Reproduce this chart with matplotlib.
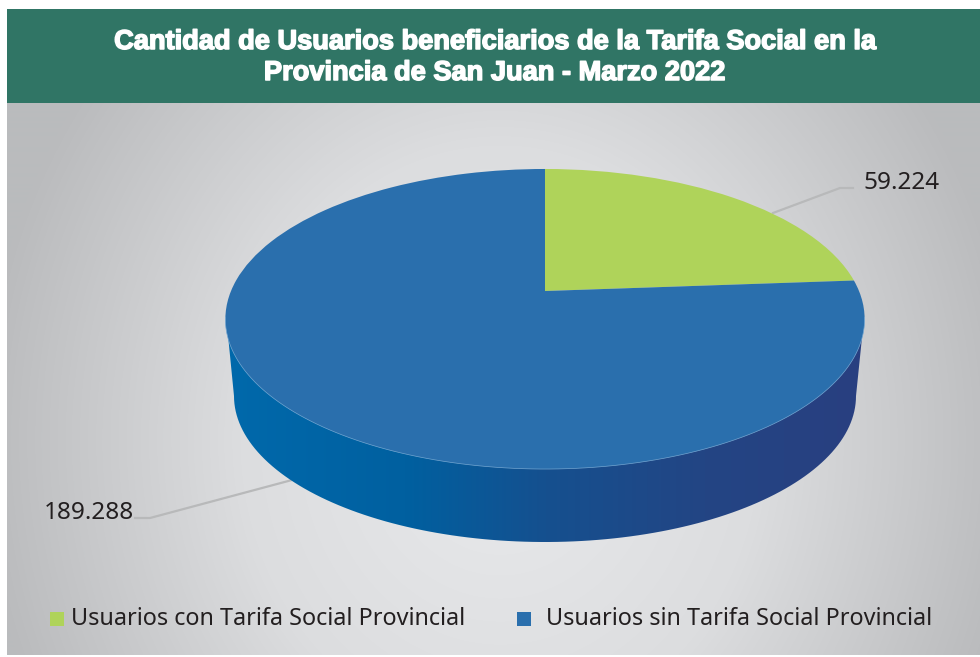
"""
Tarifa Social users in San Juan, drawn as a tilted 3D style pie.
"""

import numpy as np
import matplotlib
matplotlib.use("Agg")
import matplotlib.pyplot as plt
import matplotlib.patheffects as pe
from matplotlib.colors import LinearSegmentedColormap
from matplotlib.patches import PathPatch, Rectangle
from matplotlib.path import Path
from matplotlib.transforms import Transform

title_lines = [
    "Cantidad de Usuarios beneficiarios de la Tarifa Social en la",
    "Provincia de San Juan - Marzo 2022",
]
categories = ["Usuarios con Tarifa Social Provincial", "Usuarios sin Tarifa Social Provincial"]
values = [59224, 189288]
value_labels = ["59.224", "189.288"]
slice_colors = ["#afd35a", "#2a6fad"]

INK = "#231f20"
BAND = "#307565"
LEADER = "#b8b9ba"


class TiltTransform(Transform):
    """Maps the unit pie to figure pixels with a bit of perspective"""
    input_dims = 2
    output_dims = 2

    def __init__(self, cx=545, cy=291, sx=314, sy=144.8, k=0.1867):
        super().__init__()
        self.cx, self.cy, self.sx, self.sy, self.k = cx, cy, sx, sy, k

    def transform_non_affine(self, xy):
        xy = np.asarray(xy, dtype=float)
        w = 1 + self.k * xy[:, 1]
        return np.column_stack([self.cx + self.sx * xy[:, 0] / w,
                                self.cy - self.sy * xy[:, 1] / w])


fig = plt.figure(figsize=(9.8, 6.57), dpi=100, facecolor="white")
ax = fig.add_axes([0, 0, 1, 1])

# Panel background, light in the lower middle and darker to the edges
gx, gy = np.meshgrid(np.arange(7, 981), np.arange(103, 656))
r = np.clip(np.hypot((gx - 500) / 520, (gy - 440) / 590), 0, 1)
bg_cmap = LinearSegmentedColormap.from_list("bg", ["#e9eaec", "#dcdddf", "#babbbd"])
ax.imshow(r, cmap=bg_cmap, vmin=0, vmax=1, extent=(7, 980, 655, 103), aspect="auto", zorder=0)

ax.add_patch(Rectangle((7, 9), 973, 94, facecolor=BAND, edgecolor="none", zorder=1))

# Side wall of the pie
theta = np.radians(np.linspace(180, 0, 120))
rim_x = 545 + 311 * np.cos(theta)
rim_y = 396 + 146 * np.sin(theta)
wall_xy = np.vstack([[(226, 315)], np.column_stack([rim_x, rim_y]), [(864, 318), (545, 300)]])
wall_path = PathPatch(Path(np.vstack([wall_xy, wall_xy[0]])), transform=ax.transData,
                      facecolor="none", edgecolor="none")
ax.add_patch(wall_path)
wall_cmap = LinearSegmentedColormap.from_list(
    "wall", [(0, "#0069ab"), (0.28, "#0060a0"), (0.5, "#15508f"), (0.75, "#234584"), (1, "#293f80")])
wall = ax.imshow(np.linspace(0, 1, 256).reshape(1, -1), cmap=wall_cmap,
                 extent=(226, 864, 545, 300), aspect="auto", zorder=2)
wall.set_clip_path(wall_path)

# Top face
tilt = TiltTransform()
wedges, _ = ax.pie(values, colors=slice_colors, startangle=90, counterclock=False,
                   wedgeprops={"linewidth": 0})
for wedge in wedges:
    wedge.set_transform(tilt + ax.transData)
    wedge.set_zorder(3)

# Thin light edge along the front of the top face
front = np.radians(np.linspace(190, 350, 120))
edge_xy = tilt.transform_non_affine(np.column_stack([np.cos(front), np.sin(front)]))
ax.plot(edge_xy[:, 0], edge_xy[:, 1], color="#74a7d2", lw=0.5, zorder=4)

# Leaders and value labels
ax.plot([773, 840, 853], [213, 188, 188], color=LEADER, lw=1.6, zorder=1.5)
ax.plot([292, 150, 135], [480, 518, 518], color=LEADER, lw=1.6, zorder=1.5)
value_font = {"family": "Noto Sans", "size": 17.5, "color": INK}
legend_font = {"family": "Noto Sans", "size": 16.85, "color": INK}
ax.text(863, 189, value_labels[0], ha="left", va="baseline", **value_font)
ax.text(44, 519, value_labels[1], ha="left", va="baseline", **value_font)

# Legend
ax.add_patch(Rectangle((50, 612), 13.5, 14, facecolor=slice_colors[0], edgecolor="none", zorder=3))
ax.add_patch(Rectangle((517, 612), 13.5, 14, facecolor=slice_colors[1], edgecolor="none", zorder=3))
ax.text(71, 625, categories[0], ha="left", va="baseline", **legend_font)
ax.text(546, 625, categories[1], ha="left", va="baseline", **legend_font)

# Title
for line, y in zip(title_lines, [49, 80]):
    ax.text(495.5, y, line, ha="center", va="baseline", color="white", fontsize=19.6,
            family="Liberation Sans", fontweight="bold",
            path_effects=[pe.withStroke(linewidth=1.1, foreground="white")], zorder=5)

ax.set_aspect("auto")
ax.set_xlim(0, 980)
ax.set_ylim(657, 0)
ax.axis("off")

plt.savefig("out.png", dpi=100)
plt.close()
